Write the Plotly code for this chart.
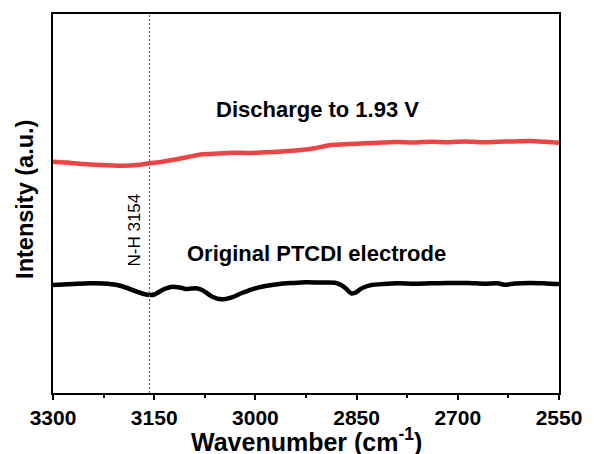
import plotly.graph_objects as go

# Wavenumber (cm^-1) and intensity (a.u.)
wn_orig = [3300, 3270, 3245, 3225, 3205, 3190, 3176, 3165, 3157, 3150, 3145, 3135, 3123,
           3112, 3103, 3095, 3088, 3079, 3064, 3050, 3035, 3020, 3005, 2985, 2965, 2945,
           2926, 2905, 2882, 2873, 2865, 2858, 2851, 2845, 2836, 2828, 2810, 2789, 2765,
           2740, 2715, 2686, 2660, 2641, 2631, 2615, 2593, 2570, 2550]
int_orig = [108, 109, 109.7, 109.5, 108, 105, 101.3, 99, 98, 98.5, 100.3, 104, 106.3,
            105.5, 104, 104.5, 104.7, 103, 96.3, 93.7, 95.7, 100, 103.7, 107, 109, 110,
            110.7, 110.5, 110.3, 108, 104, 99.7, 100.5, 103.7, 106.5, 108, 109, 109.7, 109.3,
            109.7, 110, 110, 109.3, 109.7, 108.3, 109.5, 110, 109.6, 109]

wn_dis = [3300, 3280, 3256, 3230, 3197, 3175, 3157, 3140, 3123, 3100, 3079, 3055, 3035,
          3010, 2985, 2960, 2936, 2910, 2888, 2862, 2837, 2812, 2789, 2765, 2740, 2715,
          2690, 2665, 2641, 2617, 2593, 2570, 2550]
int_dis = [231.3, 230.5, 229, 228, 227.3, 228, 229.7, 231, 233, 236, 238.7, 239.5, 240.3,
           240, 240.7, 241.5, 242.7, 245, 248, 249, 249.7, 250.5, 251, 250.5, 251.3, 250.8,
           251.5, 250.8, 251.3, 251.6, 252, 251.2, 250.3]

nh_peak = 3157
nh_label = "N-H 3154"
x_ticks = [3300, 3150, 3000, 2850, 2700, 2550]

font_family = "Arial, Liberation Sans, Helvetica, sans-serif"

fig = go.Figure()
fig.add_trace(go.Scatter(x=wn_orig, y=int_orig, mode="lines",
                         line=dict(color="black", width=4.5, shape="spline", smoothing=0.8),
                         showlegend=False, hoverinfo="skip"))
fig.add_trace(go.Scatter(x=wn_dis, y=int_dis, mode="lines",
                         line=dict(color="#ef4444", width=4.5, shape="spline", smoothing=0.8),
                         showlegend=False, hoverinfo="skip"))

fig.add_shape(type="line", x0=nh_peak, x1=nh_peak, xref="x", yref="paper", y0=0, y1=1,
              line=dict(color="#ee3333", width=1.2, dash="2px,2px"), layer="above")

fig.add_annotation(x=nh_peak, y=163, xref="x", yref="y", text=nh_label,
                   textangle=-90, showarrow=False, xshift=-15,
                   font=dict(family=font_family, size=17, color="black"))
fig.add_annotation(x=2908, y=284, xref="x", yref="y", text="<b>Discharge to 1.93 V</b>",
                   showarrow=False, font=dict(family=font_family, size=22, color="black"))
fig.add_annotation(x=2909, y=140, xref="x", yref="y", text="<b>Original PTCDI electrode</b>",
                   showarrow=False, font=dict(family=font_family, size=22, color="black"))

# axis titles
fig.add_annotation(x=-0.055, y=0.51, xref="paper", yref="paper", xanchor="center",
                   yanchor="middle", text="<b>Intensity (a.u.)</b>", textangle=-90,
                   showarrow=False, font=dict(family=font_family, size=23.5, color="black"))
fig.add_annotation(x=0.5, y=-0.125, xref="paper", yref="paper", xanchor="center",
                   yanchor="middle", text="<b>Wavenumber (cm<sup>-1</sup>)</b>",
                   showarrow=False, font=dict(family=font_family, size=25, color="black"))

fig.update_layout(
    width=594, height=454,
    margin=dict(l=53, r=32, t=14, b=61),
    paper_bgcolor="white", plot_bgcolor="white",
    font=dict(family=font_family, color="black"),
    xaxis=dict(range=[3300, 2550], tickvals=x_ticks, ticktext=[f"<b>{v}</b>" for v in x_ticks],
               tickfont=dict(size=21, family=font_family), ticks="outside", ticklen=5,
               tickwidth=2, tickcolor="black",
               minor=dict(dtick=75, tick0=3300, ticks="outside", ticklen=3, tickwidth=2,
                          tickcolor="black"),
               showline=True, linewidth=2, linecolor="black", mirror=True,
               showgrid=False, zeroline=False),
    yaxis=dict(range=[0, 379], showticklabels=False, ticks="",
               showline=True, linewidth=2, linecolor="black", mirror=True,
               showgrid=False, zeroline=False),
)

fig.write_html("out.html")
